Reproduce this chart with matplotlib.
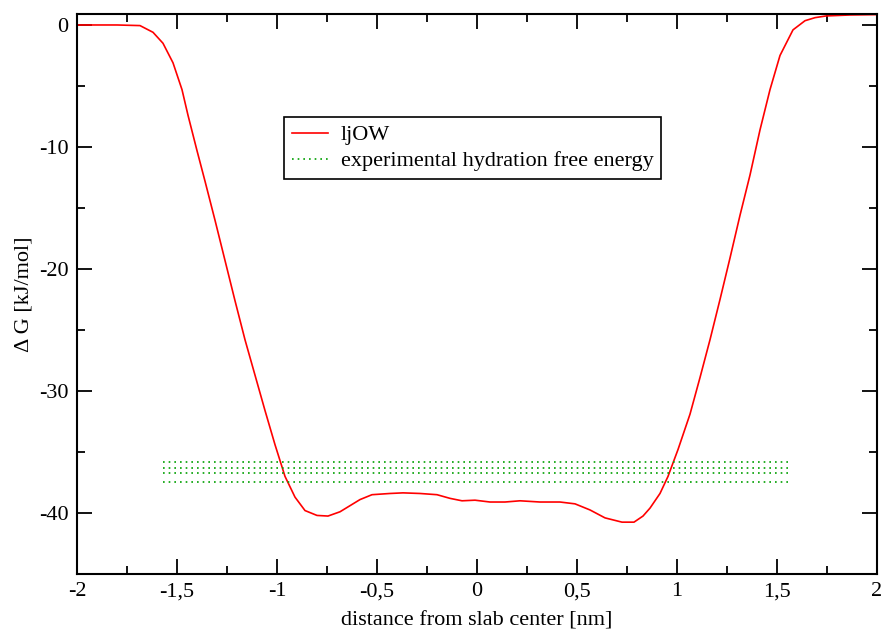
import matplotlib
matplotlib.use('Agg')
import matplotlib.pyplot as plt
from matplotlib.ticker import MultipleLocator, FuncFormatter

plt.rcParams['font.family'] = ['Liberation Serif', 'DejaVu Serif']
plt.rcParams['axes.unicode_minus'] = False

# ljOW free energy profile
dist = [-2.0, -1.80, -1.685, -1.62, -1.57, -1.52, -1.475, -1.445, -1.40, -1.36, -1.31,
        -1.26, -1.21, -1.16, -1.11, -1.06, -1.01, -0.96, -0.91, -0.86, -0.80, -0.745,
        -0.685, -0.635, -0.585, -0.525, -0.435, -0.37, -0.285, -0.20, -0.135, -0.075,
        -0.01, 0.065, 0.14, 0.215, 0.315, 0.415, 0.49, 0.565, 0.64, 0.725, 0.785,
        0.83, 0.865, 0.915, 0.955, 1.005, 1.065, 1.115, 1.165, 1.215, 1.265, 1.315,
        1.365, 1.415, 1.465, 1.515, 1.58, 1.64, 1.69, 1.745, 1.865, 2.0]
dG = [0.0, 0.0, -0.05, -0.6, -1.5, -3.1, -5.3, -7.4, -10.3, -12.8, -16.0,
      -19.3, -22.6, -25.8, -28.7, -31.6, -34.4, -37.0, -38.7, -39.8, -40.2, -40.25,
      -39.9, -39.4, -38.9, -38.5, -38.4, -38.35, -38.4, -38.5, -38.8, -39.0,
      -38.95, -39.1, -39.1, -39.0, -39.1, -39.1, -39.25, -39.75, -40.4, -40.75, -40.75,
      -40.25, -39.6, -38.4, -37.0, -34.8, -31.9, -28.9, -25.8, -22.5, -19.1, -15.6,
      -12.3, -8.6, -5.3, -2.5, -0.4, 0.35, 0.6, 0.74, 0.82, 0.85]

# experimental hydration free energies
exp_x = [-1.57, 1.56]
exp_vals = [-35.8, -36.3, -36.7, -37.5]

fig = plt.figure(figsize=(8.84, 6.29), dpi=100)
ax = fig.add_axes([77/884, 55/629, 800/884, 560/629])

ax.plot(dist, dG, color='#ff0000', lw=1.2, label='ljOW')
for i, v in enumerate(exp_vals):
    ax.plot(exp_x, [v, v], color='#00a000', lw=1.2, ls=(0, (1, 2.4)),
            label='experimental hydration free energy' if i == 0 else None)

ax.set_xlim(-2, 2)
ax.set_ylim(-45, 0.9)
ax.xaxis.set_major_locator(MultipleLocator(0.5))
ax.xaxis.set_minor_locator(MultipleLocator(0.25))
ax.yaxis.set_major_locator(MultipleLocator(10))
ax.yaxis.set_minor_locator(MultipleLocator(5))
fmt = FuncFormatter(lambda v, p: ('%g' % v).replace('.', ','))
ax.xaxis.set_major_formatter(fmt)
ax.yaxis.set_major_formatter(fmt)
ax.tick_params(which='both', direction='in', top=True, right=True, width=1.3, labelsize=16, pad=6)
ax.tick_params(which='major', length=11)
ax.tick_params(which='minor', length=5.5)
for s in ax.spines.values():
    s.set_linewidth(1.5)

ax.set_xlabel('distance from slab center [nm]', fontsize=16, labelpad=7)
ax.set_ylabel('\u0394 G [kJ/mol]', fontsize=16, labelpad=4)

leg = ax.legend(loc='upper left', bbox_to_anchor=(0.259, 0.816), borderaxespad=0,
                fancybox=False, edgecolor='black', framealpha=1, fontsize=16,
                handlelength=1.6, handletextpad=0.6, borderpad=0.35, labelspacing=0.25)
leg.get_frame().set_linewidth(1.2)

plt.savefig('out.png', dpi=100, facecolor='white')
